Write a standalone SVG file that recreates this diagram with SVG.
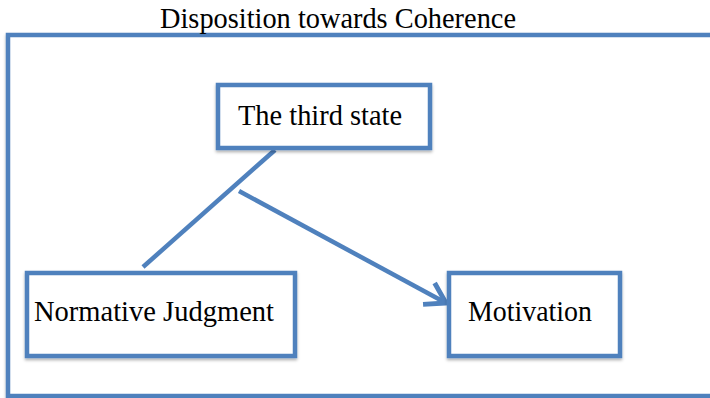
<svg xmlns="http://www.w3.org/2000/svg" width="710" height="398" viewBox="0 0 710 398">
<defs>
<style>
.box{fill:#ffffff;stroke:#4F81BD;stroke-width:4.5;filter:url(#sh)}
.ln{fill:none;stroke:#4F81BD;stroke-width:4.5;stroke-linecap:butt}
.t{font-family:"Liberation Serif",serif;font-size:29px;fill:#000}
</style>
<filter id="sh" x="-10%" y="-10%" width="120%" height="130%">
<feDropShadow dx="0" dy="2" stdDeviation="1.5" flood-color="#000" flood-opacity="0.3"/>
</filter>
<marker id="arr" viewBox="0 0 12 12" refX="10" refY="6" markerWidth="6.5" markerHeight="6.5" orient="auto" markerUnits="strokeWidth">
<path d="M2,1 L10,6 L2,11" fill="none" stroke="#4F81BD" stroke-width="2"/>
</marker>
</defs>
<rect width="710" height="398" fill="#ffffff"/>
<g id="frame">
<rect class="box" x="8" y="35" width="720" height="361"/>
<text class="t" x="160" y="28" textLength="356" lengthAdjust="spacingAndGlyphs">Disposition towards Coherence</text>
</g>
<g id="connectors">
<line class="ln" x1="275" y1="150" x2="143" y2="267"/>
<line class="ln" x1="239" y1="191" x2="446" y2="303" marker-end="url(#arr)"/>
</g>
<g id="third-state">
<rect class="box" x="218" y="85" width="212" height="63"/>
<text class="t" x="238" y="125" textLength="164" lengthAdjust="spacingAndGlyphs">The third state</text>
</g>
<g id="normative-judgment">
<rect class="box" x="27" y="273" width="268" height="83"/>
<text class="t" x="34" y="321" textLength="240" lengthAdjust="spacingAndGlyphs">Normative Judgment</text>
</g>
<g id="motivation">
<rect class="box" x="449" y="273" width="171" height="83"/>
<text class="t" x="468" y="321" textLength="124" lengthAdjust="spacingAndGlyphs">Motivation</text>
</g>
</svg>
